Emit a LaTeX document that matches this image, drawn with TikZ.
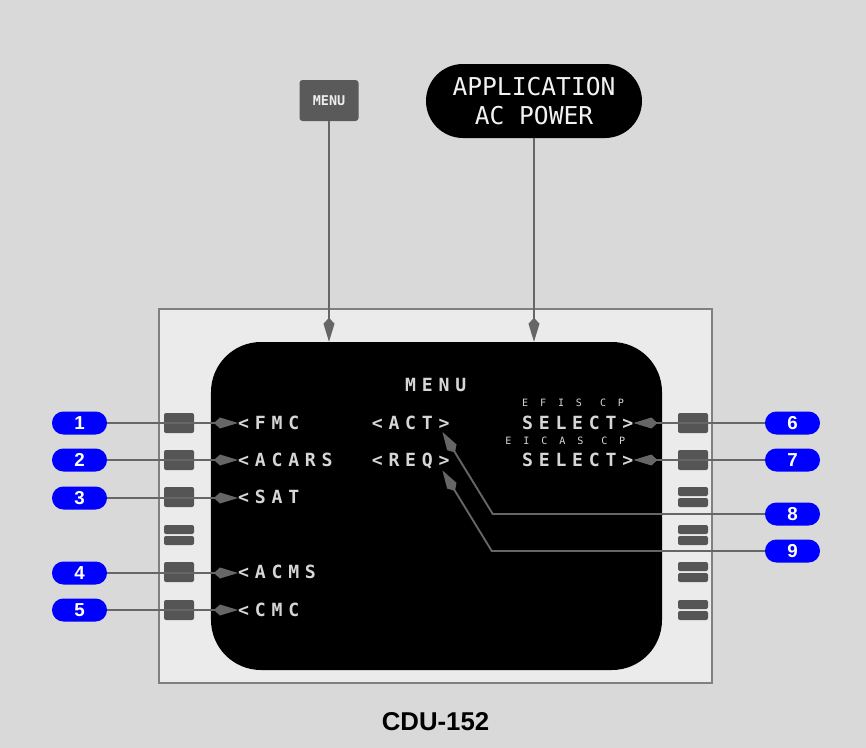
\documentclass[tikz,border=0pt]{standalone}
\usepackage{fontspec}
\setmainfont{Liberation Sans}
\newfontfamily\cdumono{DejaVu Sans Mono}
\newfontfamily\cdugrid[LetterSpace=31.7]{DejaVu Sans Mono}
\newfontfamily\cdugridsmall[LetterSpace=118]{DejaVu Sans Mono}
\usepackage{tikz}
\usetikzlibrary{arrows.meta, positioning}

\definecolor{bggray}{HTML}{D9D9D9}
\definecolor{framefill}{HTML}{EBEBEB}
\definecolor{framegray}{HTML}{808080}
\definecolor{keygray}{HTML}{555555}
\definecolor{conngray}{HTML}{666666}
\definecolor{btngray}{HTML}{5A5A5A}
\definecolor{badgeblue}{HTML}{0000FF}
\definecolor{scrtext}{HTML}{D6D6D6}

\tikzset{
  lsk/.style={fill=keygray, rounded corners=0.6mm},
  badge/.style={fill=badgeblue, text=white, font=\bfseries\fontsize{16}{16}\selectfont,
    rounded corners=3.4mm, minimum width=16.5mm, minimum height=6.9mm, inner sep=0},
  conn/.style={draw=conngray, line width=1.6pt},
  scr/.style={text=scrtext, font=\cdugrid\bfseries\fontsize{15.5}{18}\selectfont, inner sep=0, anchor=base west},
  scrsmall/.style={text=scrtext, font=\cdugridsmall\fontsize{8.6}{10}\selectfont, inner sep=0, anchor=base west},
}

\begin{document}
\begin{tikzpicture}[x=0.3mm, y=-0.3mm, >={Kite[length=7.2mm,width=3.3mm,inset=1.8mm]}]
  \def\cx{238}\def\cw{16.7}
  % background
  \fill[bggray] (0,0) rectangle (866,748);
  % CDU body and display
  \node[draw=framegray, line width=1.5pt, fill=framefill, minimum width=165.9mm,
    minimum height=112.2mm, inner sep=0] (cdu) at (435.5,496) {};
  \node[fill=black, rounded corners=15mm, minimum width=135.3mm, minimum height=98.4mm,
    inner sep=0] (screen) at (436.5,506) {};
  \node[font=\bfseries\fontsize{22}{22}\selectfont] (cdulabel) at (435.5,722) {CDU-152};
  % line select keys, solid and split
  \foreach \y in {423,460,497,572,610} \fill[lsk] (164,\y-10) rectangle (194,\y+10);
  \foreach \y in {423,460} \fill[lsk] (678,\y-10) rectangle (708,\y+10);
  \foreach \x/\y in {164/535,678/497,678/535,678/572,678/610} {
    \fill[lsk] (\x,\y-10) rectangle (\x+30,\y-1);
    \fill[lsk] (\x,\y+1) rectangle (\x+30,\y+10);
  }
  % display text
  \node[scr] (menutitle) at (\cx+10*\cw,391.5) {MENU};
  \node[scr] (fmc) at (\cx,429.5) {<FMC};
  \node[scr] (acars) at (\cx,466) {<ACARS};
  \node[scr] (sat) at (\cx,503) {<SAT};
  \node[scr] (acms) at (\cx,578) {<ACMS};
  \node[scr] (cmc) at (\cx,616.5) {<CMC};
  \node[scr] (act) at (\cx+8*\cw,429.5) {<ACT>};
  \node[scr] (req) at (\cx+8*\cw,466) {<REQ>};
  \node[scrsmall] (efis) at (\cx+17*\cw,406.5) {EFIS CP};
  \node[scr] (efissel) at (\cx+17*\cw,429.5) {SELECT>};
  \node[scrsmall] (eicas) at (\cx+16*\cw,444.5) {EICAS CP};
  \node[scr] (eicassel) at (\cx+17*\cw,466) {SELECT>};
  % inputs on top
  \node[fill=btngray, rounded corners=0.9mm, minimum width=17.7mm, minimum height=12.3mm,
    text=white!93!black, font=\cdumono\bfseries\fontsize{11.5}{12}\selectfont] (menubtn) at (329,100.5) {MENU};
  \node[fill=black, rounded corners=11.1mm, minimum width=64.8mm, minimum height=22.2mm,
    text=white!95!black, align=center, font=\cdumono\fontsize{21}{24}\selectfont]
    (acpower) at (534,101) {APPLICATION\\AC POWER};
  \draw[conn,->] (menubtn.south) -- (menubtn.south |- screen.north);
  \draw[conn,->] (acpower.south) -- (acpower.south |- screen.north);
  % numbered callouts
  \node[badge] (b1) at (79.5,423) {1};
  \node[badge] (b2) at (79.5,460) {2};
  \node[badge] (b3) at (79.5,498) {3};
  \node[badge] (b4) at (79.5,573) {4};
  \node[badge] (b5) at (79.5,610) {5};
  \node[badge] (b6) at (792.5,423) {6};
  \node[badge] (b7) at (792.5,460) {7};
  \node[badge] (b8) at (792.5,514) {8};
  \node[badge] (b9) at (792.5,551) {9};
  \draw[conn,->] (b1.east) -- (b1.east -| fmc.west);
  \draw[conn,->] (b2.east) -- (b2.east -| acars.west);
  \draw[conn,->] (b3.east) -- (b3.east -| sat.west);
  \draw[conn,->] (b4.east) -- (b4.east -| acms.west);
  \draw[conn,->] (b5.east) -- (b5.east -| cmc.west);
  \draw[conn,->] (b6.west) -- (b6.west -| efissel.east);
  \draw[conn,->] (b7.west) -- (b7.west -| eicassel.east);
  \draw[conn,->] (b8.west) -- ++(-272,0) -- ([xshift=-2.2mm,yshift=-0.6mm]act.south east);
  \draw[conn,->] (b9.west) -- ++(-273,0) -- ([xshift=-2.2mm,yshift=-0.5mm]req.south east);
\end{tikzpicture}
\end{document}
